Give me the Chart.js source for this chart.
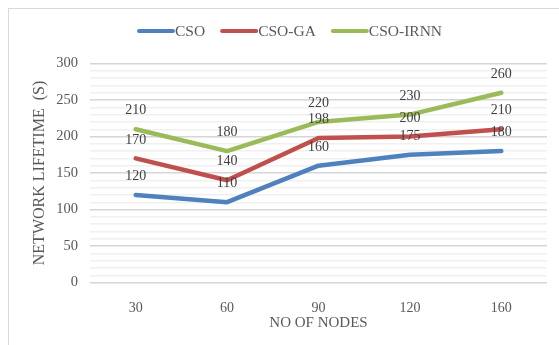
<!DOCTYPE html>
<html><head><meta charset="utf-8">
<script src="https://cdn.jsdelivr.net/npm/chart.js@4"></script>
<style>html,body{margin:0;padding:0;background:#fff;overflow:hidden}canvas{display:block}</style>
</head><body><canvas id="c" width="559" height="345"></canvas>
<script>
const categories = ['30', '60', '90', '120', '160'];
const seriesNames = ['CSO', 'CSO-GA', 'CSO-IRNN'];
const csoValues = [120, 110, 160, 175, 180];
const csoGaValues = [170, 140, 198, 200, 210];
const csoIrnnValues = [210, 180, 220, 230, 260];
const yMin = 0, yMax = 300, yMajorStep = 50, yMinorStep = 10;
const xTitle = 'NO OF NODES';
const yTitle = 'NETWORK LIFETIME  (S)';

const colors = ['#4F81BD', '#C0504D', '#9BBB59'];
const FONT = '"Liberation Serif", "Times New Roman", serif';
const TEXT = '#595959';

const framePlugin = {
  id: 'frame',
  beforeDraw(chart) {
    const ctx = chart.ctx;
    ctx.save();
    ctx.fillStyle = '#fff';
    ctx.fillRect(0, 0, chart.width, chart.height);
    ctx.strokeStyle = '#d9d9d9';
    ctx.lineWidth = 1;
    ctx.strokeRect(8.5, 8.5, 620, 400);
    ctx.restore();
  }
};

const legendPlugin = {
  id: 'customLegend',
  afterDraw(chart) {
    const ctx = chart.ctx;
    ctx.save();
    ctx.font = '15.5px ' + FONT;
    const lineLen = 38, gap = 15;
    const items = chart.data.datasets.map(ds => ({label: ds.label, color: ds.borderColor, w: ctx.measureText(ds.label).width}));
    const total = items.reduce((s, it) => s + lineLen + it.w, 0) + gap * (items.length - 1);
    let x = 289.5 - total / 2;
    const y = 31;
    items.forEach(it => {
      ctx.strokeStyle = it.color;
      ctx.lineWidth = 4;
      ctx.lineCap = 'round';
      ctx.beginPath();
      ctx.moveTo(x + 2, y);
      ctx.lineTo(x + lineLen - 2, y);
      ctx.stroke();
      ctx.fillStyle = TEXT;
      ctx.textBaseline = 'middle';
      ctx.textAlign = 'left';
      ctx.fillText(it.label, x + lineLen, y + 1);
      x += lineLen + it.w + gap;
    });
    ctx.restore();
  }
};

const labelPlugin = {
  id: 'dataLabels',
  afterDatasetsDraw(chart) {
    const ctx = chart.ctx;
    ctx.save();
    ctx.font = '14px ' + FONT;
    ctx.fillStyle = '#404040';
    ctx.textAlign = 'center';
    ctx.textBaseline = 'middle';
    chart.data.datasets.forEach((ds, i) => {
      const meta = chart.getDatasetMeta(i);
      meta.data.forEach((pt, j) => {
        ctx.fillText(String(ds.data[j]), pt.x, pt.y - 18.5);
      });
    });
    ctx.restore();
  }
};

const seriesData = [csoValues, csoGaValues, csoIrnnValues];

new Chart(document.getElementById('c'), {
  type: 'line',
  data: {
    labels: categories,
    datasets: seriesNames.map((name, i) => ({
      label: name,
      data: seriesData[i],
      borderColor: colors[i],
      backgroundColor: colors[i],
      borderWidth: 4.5,
      borderCapStyle: 'round',
      borderJoinStyle: 'round',
      pointRadius: 0,
      pointHoverRadius: 0,
      tension: 0,
      fill: false
    }))
  },
  options: {
    responsive: false,
    animation: false,
    events: [],
    layout: {padding: {top: 63.5, right: 12, left: 0, bottom: 0}},
    plugins: {legend: {display: false}, tooltip: {enabled: false}, title: {display: false}},
    scales: {
      x: {
        offset: true,
        grid: {display: false},
        border: {display: false},
        ticks: {font: {family: FONT, size: 14}, color: TEXT, padding: 9},
        title: {display: true, text: xTitle, font: {family: FONT, size: 15}, color: TEXT, padding: {top: 0, bottom: 13}},
        afterFit(s) { s.height = 62.5; }
      },
      y: {
        min: yMin, max: yMax,
        border: {display: false},
        grid: {
          drawTicks: false,
          color: c => (c.tick && c.tick.value % yMajorStep === 0) ? '#d6d6d6' : '#f0f0f0',
          lineWidth: c => (c.tick && c.tick.value % yMajorStep === 0) ? 1.6 : 1.4
        },
        ticks: {
          stepSize: yMinorStep, autoSkip: false,
          font: {family: FONT, size: 14.5}, color: TEXT, padding: 12,
          callback: v => (v % yMajorStep === 0 ? String(v) : '')
        },
        title: {display: true, text: yTitle, font: {family: FONT, size: 16}, color: TEXT, padding: {top: 30.4, bottom: 0}},
        afterFit(s) { s.width = 90; }
      }
    }
  },
  plugins: [framePlugin, legendPlugin, labelPlugin]
});
</script>
</body></html>
